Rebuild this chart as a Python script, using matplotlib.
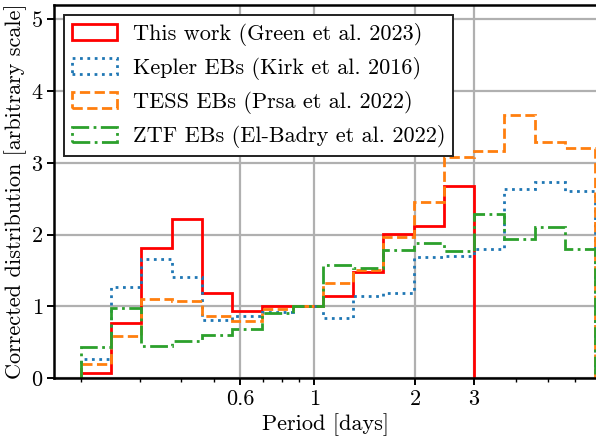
import numpy as np
import matplotlib
matplotlib.use("Agg")
import matplotlib.pyplot as plt
from matplotlib.ticker import FixedLocator, FixedFormatter, NullFormatter

plt.rcParams['font.family'] = 'serif'
plt.rcParams['font.serif'] = ['cmr10', 'DejaVu Serif']
plt.rcParams['mathtext.fontset'] = 'cm'
plt.rcParams['axes.unicode_minus'] = False
plt.rcParams['axes.formatter.use_mathtext'] = True

# Bin edges (log-spaced, width = log10(15)/13 dex, starting at 0.2 d)
p_min = 0.2
p_red_max = 3.0
n_red_bins = 13
n_all_bins = 17
dlog = np.log10(p_red_max / p_min) / n_red_bins
edges_all = p_min * 10 ** (dlog * np.arange(n_all_bins + 1))
edges_red = edges_all[:n_red_bins + 1]

this_work = [0.07, 0.76, 1.81, 2.22, 1.18, 0.94, 1.00, 1.00, 1.15, 1.48, 2.01, 2.12, 2.67]
kepler = [0.26, 1.27, 1.66, 1.41, 0.81, 0.87, 0.92, 1.00, 0.84, 1.14, 1.19, 1.68, 1.70, 1.80, 2.64, 2.73, 2.60]
tess = [0.19, 0.58, 1.10, 1.08, 0.86, 0.80, 0.96, 1.00, 1.32, 1.50, 1.96, 2.46, 3.08, 3.16, 3.67, 3.29, 3.20]
ztf = [0.43, 0.97, 0.44, 0.52, 0.60, 0.69, 0.91, 1.00, 1.58, 1.53, 1.79, 1.88, 1.77, 2.28, 1.94, 2.10, 1.80]

labels = ["This work (Green et al. 2023)",
          "Kepler EBs (Kirk et al. 2016)",
          "TESS EBs (Prsa et al. 2022)",
          "ZTF EBs (El-Badry et al. 2022)"]

xticks_major = [0.6, 1, 2, 3]
xtick_labels = ["0.6", "1", "2", "3"]
xticks_minor = [0.2, 0.3, 0.4, 0.5, 0.7, 0.8, 0.9, 4, 5, 6]

FS = 16

fig = plt.figure(figsize=(5.96, 4.38), dpi=100)
ax = fig.add_axes([54.3 / 596, 1 - 378 / 438, 1 - 54.3 / 596, (378 - 5) / 438])

ax.hist(edges_red[:-1], bins=edges_red, weights=this_work, histtype='step',
        color='red', lw=2.0, ls='-', label=labels[0])
ax.hist(edges_all[:-1], bins=edges_all, weights=kepler, histtype='step',
        color='tab:blue', lw=2.0, ls=':', label=labels[1])
ax.hist(edges_all[:-1], bins=edges_all, weights=tess, histtype='step',
        color='tab:orange', lw=2.0, ls='--', label=labels[2])
ax.hist(edges_all[:-1], bins=edges_all, weights=ztf, histtype='step',
        color='tab:green', lw=2.0, ls='-.', label=labels[3])

ax.set_xscale('log')
ax.set_xlim(1 / 6, 6.95)
ax.set_ylim(0, 5.2)
ax.xaxis.set_major_locator(FixedLocator(xticks_major))
ax.xaxis.set_major_formatter(FixedFormatter(xtick_labels))
ax.xaxis.set_minor_locator(FixedLocator(xticks_minor))
ax.xaxis.set_minor_formatter(NullFormatter())
ax.set_yticks([0, 1, 2, 3, 4, 5])

ax.grid(True, which='major', color='#b0b0b0', lw=1.6)
ax.set_axisbelow('line')
for s in ['left', 'bottom', 'top']:
    ax.spines[s].set_linewidth(1.8)
ax.spines['right'].set_visible(False)
ax.tick_params(which='major', length=5, width=1.4, labelsize=FS, pad=3)
ax.tick_params(which='minor', length=3, width=1.0)

ax.set_xlabel("Period [days]", fontsize=FS, labelpad=3)
ax.set_ylabel("Corrected distribution [arbitrary scale]", fontsize=FS, labelpad=3)

leg = ax.legend(loc='upper left', fontsize=FS, fancybox=False, edgecolor='#222222',
                framealpha=1.0, borderaxespad=0.45, handlelength=2.0,
                handletextpad=0.75, borderpad=0.35)
leg.get_frame().set_linewidth(1.4)

fig.savefig("out.png", dpi=100)
